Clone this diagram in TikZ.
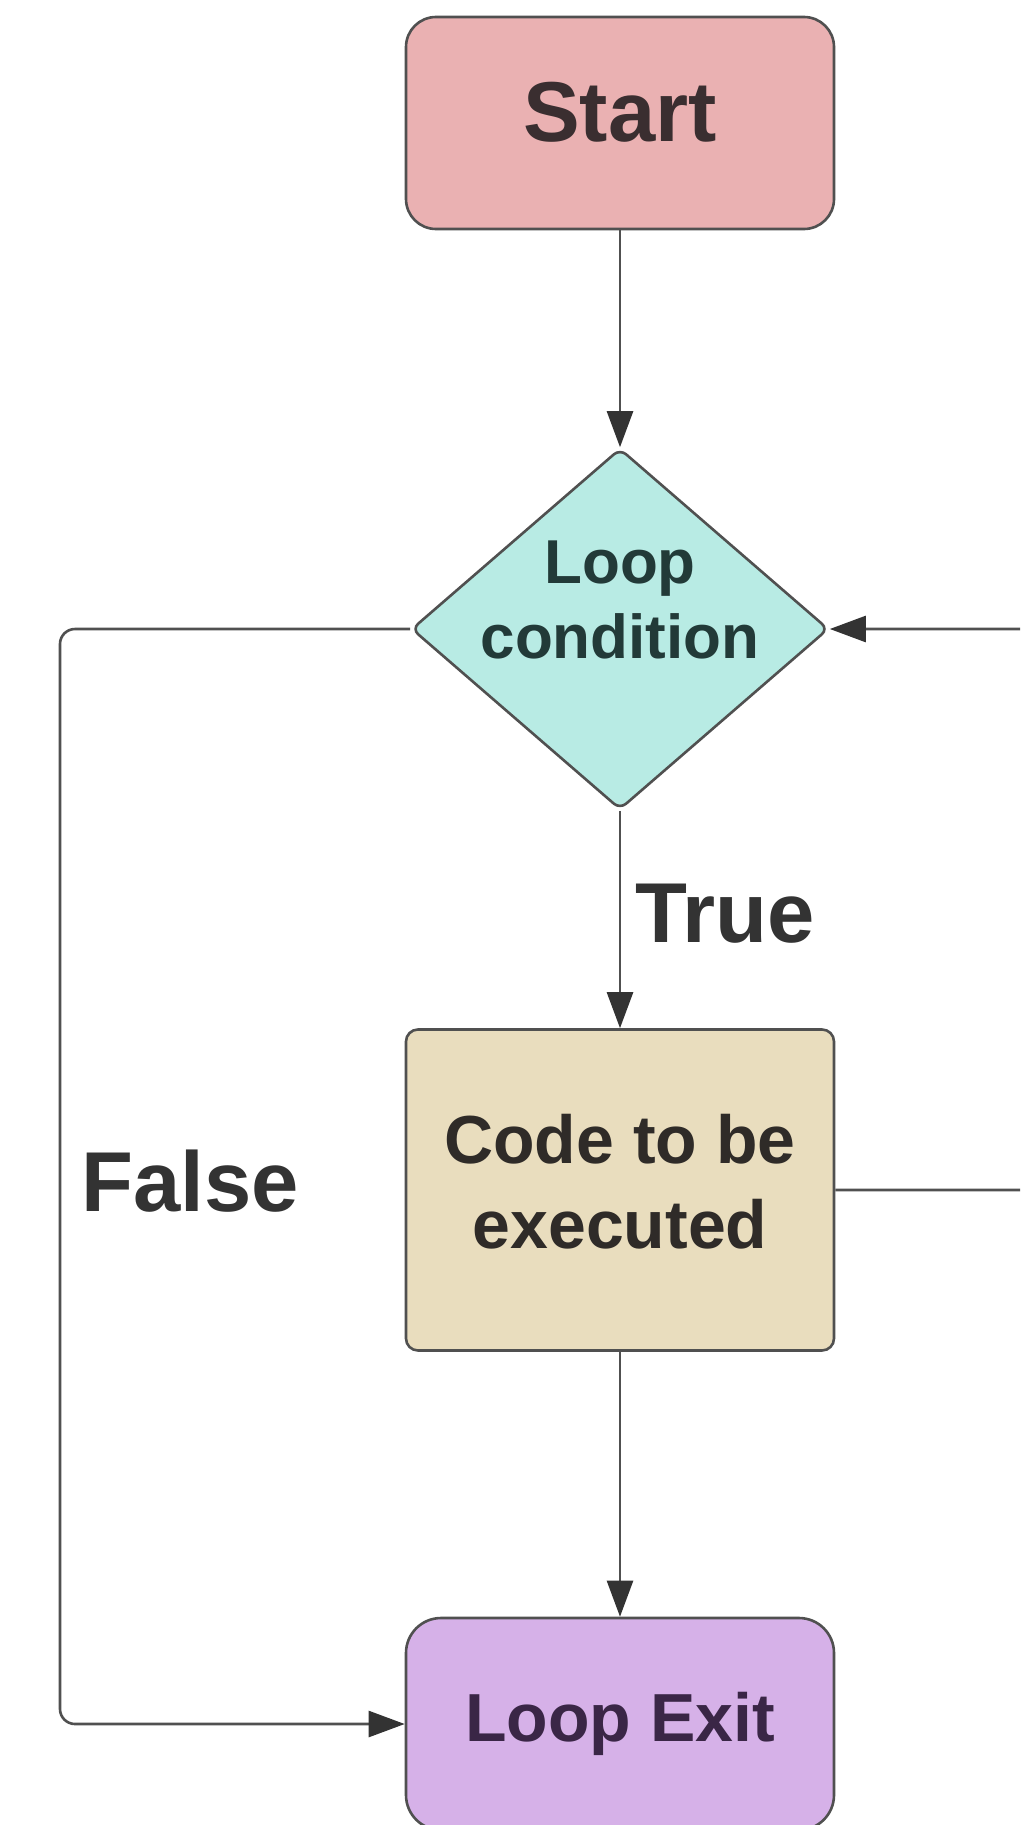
\documentclass[tikz,border=0pt]{standalone}
\usepackage{fontspec}
\setmainfont{Liberation Sans}
\usetikzlibrary{shapes.geometric,arrows.meta}

\definecolor{startpink}{HTML}{EAB1B2}
\definecolor{condteal}{HTML}{B8EBE4}
\definecolor{codetan}{HTML}{E9DDBE}
\definecolor{exitlilac}{HTML}{D6B1E8}
\definecolor{edgegray}{HTML}{505050}
\definecolor{inkgray}{HTML}{333333}
\definecolor{startink}{HTML}{3A2E30}
\definecolor{condink}{HTML}{223A38}
\definecolor{codeink}{HTML}{2F2B28}
\definecolor{exitink}{HTML}{3A2646}

\begin{document}
\begin{tikzpicture}[x=1pt, y=-1pt,
    box/.style={draw=edgegray, line width=2.6pt, minimum width=428pt, inner sep=0pt, align=center},
    flow/.style={edgegray, line width=2.6pt, -{Triangle[length=36pt,width=26pt,color=inkgray]}},
    lbl/.style={inner sep=0pt, text=inkgray, font=\bfseries\fontsize{85}{90}\selectfont}]
    \useasboundingbox (0,0) rectangle (1020,1825);
    \clip (0,0) rectangle (1020,1825);

    \node[box, fill=startpink, minimum height=212pt, rounded corners=30pt, text=startink,
          font=\bfseries\fontsize{85}{90}\selectfont] (start) at (620,123) {Start\rule[-22pt]{0pt}{0pt}};
    \node[diamond, draw=edgegray, line width=2.6pt, fill=condteal, minimum width=417pt, minimum height=361pt,
          inner sep=0pt, rounded corners=8pt] (cond) at (620,629) {};
    \node[inner sep=0pt, align=center, text=condink, font=\bfseries\fontsize{62}{75}\selectfont]
          (condtext) at (620,600) {Loop\\condition};
    \node[box, fill=codetan, minimum height=321pt, rounded corners=12pt, text=codeink,
          font=\bfseries\fontsize{68}{85}\selectfont] (code) at (620,1190) {Code to be\\executed\rule[-18pt]{0pt}{0pt}};
    \node[box, fill=exitlilac, minimum height=212pt, rounded corners=35pt, text=exitink,
          font=\bfseries\fontsize{68}{80}\selectfont] (exit) at (620,1724) {Loop Exit};

    \node[lbl, anchor=base west] (truelbl) at (635,942) {True};
    \node[lbl, anchor=base west] (falselbl) at (81,1211) {False};

    \coordinate (falsebend) at (60,1724);
    \draw[flow] (start.south) -- (cond.north);
    \draw[flow] (cond.south) -- (code.north);
    \draw[flow] (code.south) -- (exit.north);
    \draw[flow, rounded corners=15pt] (cond.west) -| (falsebend) -- (exit.west);
    \draw[flow, rounded corners=15pt] (code.east) -- ++(240,0) |- (cond.east);
\end{tikzpicture}
\end{document}
